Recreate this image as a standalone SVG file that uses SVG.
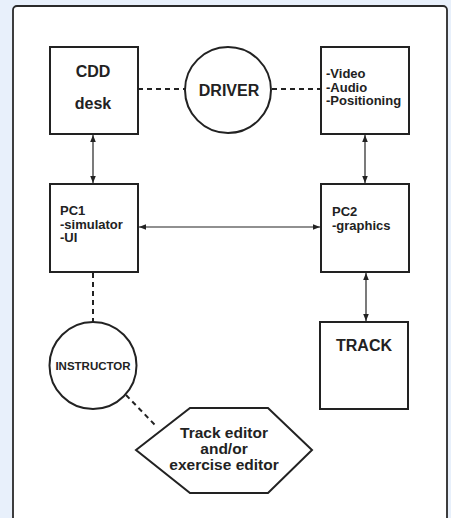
<svg xmlns="http://www.w3.org/2000/svg" width="451" height="518" viewBox="0 0 451 518">
<defs>
<style>
.box{fill:#fff;stroke:#222;stroke-width:2}
.circ{fill:#fff;stroke:#222;stroke-width:2}
.dash{fill:none;stroke:#222;stroke-width:2;stroke-dasharray:5,4}
.conn{fill:none;stroke:#222;stroke-width:1.2}
text{font-family:"Liberation Sans",Arial,sans-serif;font-weight:bold;fill:#222}
.t16{font-size:16px}
.t13{font-size:13px}
.t15{font-size:15.5px}
.t11{font-size:11.5px}
.mid{text-anchor:middle}
</style>
<marker id="ah" viewBox="0 0 10 10" refX="10" refY="5" markerWidth="7" markerHeight="7" orient="auto-start-reverse" markerUnits="userSpaceOnUse">
<path d="M0,1 L10,5 L0,9 z" fill="#222"/>
</marker>
</defs>
<rect x="0" y="0" width="451" height="518" fill="#e8f0fb"/>
<rect x="13" y="6" width="434" height="530" rx="4" fill="#fff" stroke="#2a2a2a" stroke-width="1.8"/>
<g id="connectors">
<line class="dash" x1="138" y1="89" x2="185" y2="89"/>
<line class="dash" x1="272" y1="89" x2="321" y2="89"/>
<line class="conn" x1="93" y1="135" x2="93" y2="183" marker-start="url(#ah)" marker-end="url(#ah)"/>
<line class="conn" x1="365" y1="135" x2="365" y2="183" marker-start="url(#ah)" marker-end="url(#ah)"/>
<line class="conn" x1="139" y1="227" x2="320" y2="227" marker-start="url(#ah)" marker-end="url(#ah)"/>
<line class="conn" x1="366" y1="273" x2="366" y2="321" marker-start="url(#ah)" marker-end="url(#ah)"/>
<line class="dash" x1="93" y1="273" x2="93" y2="322"/>
<line class="dash" x1="126" y1="395" x2="155" y2="425"/>
</g>
<g id="cdd">
<rect class="box" x="50" y="47" width="88" height="87"/>
<text class="t16 mid" x="93" y="77">CDD</text>
<text class="t16 mid" x="93" y="109">desk</text>
</g>
<g id="driver">
<circle class="circ" cx="228" cy="90" r="43"/>
<text class="t16 mid" x="229" y="96">DRIVER</text>
</g>
<g id="video">
<rect class="box" x="321" y="47" width="88" height="87"/>
<text class="t13" x="326" y="78">-Video</text>
<text class="t13" x="326" y="91.5">-Audio</text>
<text class="t13" x="326" y="105">-Positioning</text>
</g>
<g id="pc1">
<rect class="box" x="50" y="184" width="88" height="88"/>
<text class="t13" x="60" y="215">PC1</text>
<text class="t13" x="60" y="228.5">-simulator</text>
<text class="t13" x="60" y="242">-UI</text>
</g>
<g id="pc2">
<rect class="box" x="321" y="184" width="88" height="88"/>
<text class="t13" x="332" y="216">PC2</text>
<text class="t13" x="332" y="229.5">-graphics</text>
</g>
<g id="track">
<rect class="box" x="320" y="322" width="88" height="87"/>
<text class="t16 mid" x="364" y="351">TRACK</text>
</g>
<g id="instructor">
<circle class="circ" cx="93" cy="365.5" r="43.5"/>
<text class="t11 mid" x="93" y="370">INSTRUCTOR</text>
</g>
<g id="editor">
<polygon class="box" points="136,450 190,408 268,408 312,450 268,493 190,493"/>
<text class="t15 mid" x="224" y="438">Track editor</text>
<text class="t15 mid" x="224" y="454">and/or</text>
<text class="t15 mid" x="224" y="470">exercise editor</text>
</g>
</svg>
